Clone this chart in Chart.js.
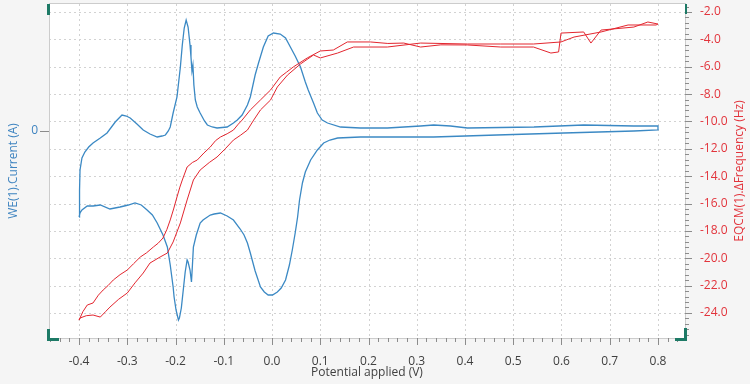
<!DOCTYPE html>
<html>
<head>
<meta charset="utf-8">
<script src="https://cdn.jsdelivr.net/npm/chart.js@4.4.1/dist/chart.umd.min.js"></script>
<style>
  html, body { margin: 0; padding: 0; background: #f5f5f5; }
  #wrap { width: 750px; height: 384px; position: relative; }
</style>
</head>
<body>
<div id="wrap"><canvas id="c" width="750" height="384"></canvas></div>
<script>
// ---- tick labels ----
const xTickValues = [-0.4, -0.3, -0.2, -0.1, 0.0, 0.1, 0.2, 0.3, 0.4, 0.5, 0.6, 0.7, 0.8];
const freqTickValues = [-2, -4, -6, -8, -10, -12, -14, -16, -18, -20, -22, -24];
const currentTickValues = [0];

// ---- CV (blue), current in µA: forward sweep then return sweep ----
const cvPotential = [
  -0.400, -0.399, -0.398, -0.394, -0.388, -0.380, -0.371, -0.356, -0.342, -0.325,
  -0.311, -0.302, -0.294, -0.280, -0.267, -0.253, -0.238, -0.228, -0.221, -0.215,
  -0.211, -0.205, -0.197, -0.190, -0.186, -0.182, -0.178, -0.174, -0.170, -0.168,
  -0.166, -0.164, -0.162, -0.159, -0.155, -0.149, -0.140, -0.134, -0.124, -0.114,
  -0.093, -0.080, -0.072, -0.062, -0.051, -0.045, -0.035, -0.028, -0.018, -0.008,
   0.003,  0.017,  0.028,  0.038,  0.048,  0.059,  0.069,  0.075,  0.086,  0.094,
   0.104,  0.115,  0.142,  0.183,  0.239,  0.308,  0.335,  0.370,  0.405,  0.543,
   0.646,  0.750,  0.800,
   0.800,  0.750,  0.605,  0.466,  0.335,  0.183,  0.136,  0.120,  0.107,  0.094,
   0.080,  0.069,  0.063,  0.057,  0.053,  0.048,  0.042,  0.036,  0.028,  0.019,
   0.011,  0.001, -0.008, -0.016, -0.024, -0.035, -0.045, -0.051, -0.058, -0.066,
  -0.080, -0.093, -0.107, -0.120, -0.128, -0.143, -0.149, -0.157, -0.163, -0.165,
  -0.167, -0.170, -0.174, -0.176, -0.180, -0.184, -0.188, -0.192, -0.194, -0.199,
  -0.203, -0.205, -0.211, -0.217, -0.226, -0.238, -0.248, -0.259, -0.271, -0.284,
  -0.298, -0.315, -0.336, -0.356, -0.371, -0.383, -0.394, -0.398, -0.400
];
const cvCurrent = [
  -86, -59, -39, -27, -21, -16, -12, -7, -2, 9,
  16, 15, 13, 7, 1, -3, -6, -5, -4, 0,
  4, 18, 34, 64, 86, 103, 111, 104, 86, 74,
  60, 66, 46, 31, 24, 18, 10, 6, 4, 3,
  4, 8, 11, 16, 26, 34, 56, 68, 84, 95,
  98, 97, 93, 84, 75, 64, 49, 41, 28, 18,
  11, 8, 4, 3, 3, 5, 6, 5, 3, 4,
  6, 5, 5,
  1, 0, -2, -4, -6, -6, -7, -9, -12, -19,
  -29, -41, -52, -69, -86, -102, -119, -134, -149, -157,
  -161, -164, -164, -161, -156, -140, -122, -112, -104, -98,
  -89, -85, -82, -83, -84, -89, -92, -104, -116, -134,
  -151, -139, -131, -129, -141, -159, -177, -187, -189, -179,
  -166, -156, -134, -116, -104, -92, -84, -79, -74, -72,
  -74, -76, -78, -74, -75, -75, -79, -82, -86
];

// ---- EQCM frequency (red), Hz ----
const freqPotentialA = [
  -0.400, -0.392, -0.383, -0.371, -0.360, -0.350, -0.340, -0.329, -0.315, -0.300,
  -0.287, -0.273, -0.260, -0.246, -0.236, -0.226, -0.218, -0.211, -0.204, -0.197,
  -0.191, -0.186, -0.176, -0.165, -0.155, -0.141, -0.128, -0.117, -0.107, -0.093,
  -0.080, -0.070, -0.062, -0.045, -0.024, -0.003, 0.017, 0.030, 0.044, 0.058,
   0.073, 0.100, 0.127, 0.156, 0.204, 0.240, 0.273, 0.308, 0.350, 0.405,
   0.474, 0.542, 0.578, 0.594, 0.599, 0.646, 0.661, 0.682, 0.750, 0.779, 0.800
];
const freqA = [
  -24.52, -23.90, -23.42, -23.27, -22.70, -22.32, -22.00, -21.59, -21.20, -20.86,
  -20.40, -19.91, -19.60, -19.18, -18.90, -18.52, -17.90, -17.20, -16.40, -15.52,
  -14.80, -14.28, -13.33, -13.00, -12.82, -12.30, -11.87, -11.40, -11.14, -10.90,
  -10.63, -10.20, -9.90, -9.16, -8.43, -7.70, -6.75, -6.40, -6.02, -5.70,
  -5.36, -4.85, -4.78, -4.19, -4.19, -4.30, -4.27, -4.56, -4.40, -4.41,
  -4.56, -4.56, -5.00, -4.92, -3.54, -3.46, -4.27, -3.32, -3.10, -2.73, -2.88
];
const freqPotentialB = [
  -0.400, -0.398, -0.385, -0.371, -0.356, -0.345, -0.336, -0.318, -0.300, -0.284,
  -0.267, -0.253, -0.232, -0.217, -0.205, -0.190, -0.176, -0.163, -0.149, -0.130,
  -0.114, -0.097, -0.080, -0.065, -0.051, -0.038, -0.024, -0.003, 0.011, 0.032,
   0.059, 0.086, 0.100, 0.136, 0.169, 0.239, 0.308, 0.405, 0.474, 0.542,
   0.599, 0.626, 0.682, 0.738, 0.796, 0.800
];
const freqB = [
  -24.52, -24.37, -24.20, -24.15, -24.30, -23.90, -23.57, -23.00, -22.54, -21.80,
  -21.08, -20.35, -19.91, -19.62, -18.81, -17.42, -15.74, -14.28, -13.55, -13.00,
  -12.60, -12.00, -11.36, -11.00, -10.63, -9.90, -9.16, -8.43, -7.48, -6.61,
  -5.80, -5.14, -5.36, -5.00, -4.56, -4.56, -4.27, -4.34, -4.34, -4.34,
  -4.19, -3.83, -3.46, -2.95, -2.95, -2.88
];

const BLUE = '#3b89c4';
const BLUE_TXT = '#3f84c0';
const RED = '#e3262f';
const RED_TXT = '#e2343c';
const GRAY_TXT = '#404040';
const ACCENT = '#1d7a66';
const FONT = "'Open Sans', 'Noto Sans', sans-serif";

Chart.defaults.font.family = FONT;
Chart.defaults.font.size = 12;

const pts = (xs, ys) => xs.map((v, i) => ({ x: v, y: ys[i] }));

function zeroPad(s) { s.paddingTop = 0; s.paddingBottom = 0; s.paddingLeft = 0; s.paddingRight = 0; }

const decor = {
  id: 'decor',
  beforeDraw(chart) {
    const { ctx, chartArea: a } = chart;
    ctx.save();
    ctx.fillStyle = '#ffffff';
    ctx.fillRect(a.left, a.top, a.right - a.left, a.bottom - a.top);
    ctx.restore();
  },
  beforeDatasetsDraw(chart) {
    const { ctx, chartArea: a, scales } = chart;
    ctx.save();
    ctx.strokeStyle = '#d2d2d2';
    ctx.lineWidth = 1;
    ctx.setLineDash([2, 3]);
    xTickValues.forEach(v => {
      const px = Math.round(scales.x.getPixelForValue(v)) + 0.5;
      ctx.beginPath(); ctx.moveTo(px, a.top); ctx.lineTo(px, a.bottom); ctx.stroke();
    });
    freqTickValues.forEach(v => {
      const py = Math.round(scales.y2.getPixelForValue(v)) + 0.5;
      ctx.beginPath(); ctx.moveTo(a.left, py); ctx.lineTo(a.right, py); ctx.stroke();
    });
    ctx.restore();
  },
  afterDraw(chart) {
    const { ctx, chartArea: a, scales } = chart;
    const L = Math.round(a.left), R = Math.round(a.right), T = Math.round(a.top), B = Math.round(a.bottom);
    ctx.save();
    // frame
    ctx.strokeStyle = '#cccccc';
    ctx.lineWidth = 1;
    ctx.strokeRect(L + 0.5, T - 0.5, R - L, B - T + 1);
    // x ticks (major 0.1, minor 0.02)
    ctx.strokeStyle = '#8c8c8c';
    const xs = scales.x;
    for (let k = Math.ceil(xs.min / 0.02 - 1e-6); k * 0.02 <= xs.max + 1e-9; k++) {
      const v = k * 0.02;
      const major = Math.abs(k % 5) === 0;
      const px = Math.round(xs.getPixelForValue(v)) + 0.5;
      ctx.beginPath(); ctx.moveTo(px, B); ctx.lineTo(px, B + (major ? 7 : 4)); ctx.stroke();
    }
    // right axis ticks (major 2, minor 0.4)
    const ys = scales.y2;
    for (let k = Math.ceil(ys.min / 0.4 - 1e-6); k * 0.4 <= ys.max + 1e-9; k++) {
      const v = k * 0.4;
      const major = Math.abs(k % 5) === 0;
      const py = Math.round(ys.getPixelForValue(v)) + 0.5;
      ctx.beginPath(); ctx.moveTo(R, py); ctx.lineTo(R + (major ? 7 : 4), py); ctx.stroke();
    }
    // left axis tick at 0
    const yl = scales.y;
    currentTickValues.forEach(v => {
      const py = Math.round(yl.getPixelForValue(v)) + 0.5;
      ctx.beginPath(); ctx.moveTo(L - 9, py); ctx.lineTo(L, py); ctx.stroke();
    });
    // corner brackets
    ctx.strokeStyle = ACCENT;
    ctx.lineWidth = 3;
    ctx.beginPath(); ctx.moveTo(L - 0.5, T); ctx.lineTo(L - 0.5, T + 11); ctx.stroke();
    ctx.beginPath(); ctx.moveTo(L - 0.5, B - 9); ctx.lineTo(L - 0.5, B + 1.5); ctx.lineTo(L + 10, B + 1.5); ctx.stroke();
    ctx.beginPath(); ctx.moveTo(R - 10, B + 1.5); ctx.lineTo(R + 0.5, B + 1.5); ctx.lineTo(R + 0.5, B - 10); ctx.stroke();
    ctx.lineWidth = 2;
    ctx.beginPath(); ctx.moveTo(R + 1, T); ctx.lineTo(R + 1, T + 10); ctx.stroke();
    // right title
    ctx.fillStyle = RED_TXT;
    ctx.font = '12px ' + FONT;
    ctx.textAlign = 'center';
    ctx.textBaseline = 'middle';
    ctx.translate(740, (a.top + a.bottom) / 2);
    ctx.rotate(-Math.PI / 2);
    ctx.fillText('EQCM(1).ΔFrequency (Hz)', 0, 0);
    ctx.restore();
  }
};

new Chart(document.getElementById('c'), {
  type: 'line',
  data: {
    datasets: [
      { label: 'ΔFrequency A', data: pts(freqPotentialA, freqA), yAxisID: 'y2', borderColor: RED, borderWidth: 1, pointRadius: 0, tension: 0, fill: false },
      { label: 'ΔFrequency B', data: pts(freqPotentialB, freqB), yAxisID: 'y2', borderColor: RED, borderWidth: 1, pointRadius: 0, tension: 0, fill: false },
      { label: 'Current', data: pts(cvPotential, cvCurrent), yAxisID: 'y', borderColor: BLUE, borderWidth: 1.3, pointRadius: 0, tension: 0, fill: false }
    ]
  },
  options: {
    responsive: false,
    animation: false,
    devicePixelRatio: 1,
    parsing: true,
    layout: { padding: { top: 4, left: 0, right: 0, bottom: 0 } },
    plugins: { legend: { display: false }, tooltip: { enabled: false } },
    scales: {
      x: {
        type: 'linear', position: 'bottom', min: -0.4623, max: 0.856,
        afterBuildTicks: s => { s.ticks = xTickValues.map(v => ({ value: v })); },
        ticks: { color: GRAY_TXT, padding: 16, autoSkip: false, maxRotation: 0, callback: v => Number(v).toFixed(1) },
        grid: { display: false, drawTicks: false },
        border: { display: false },
        title: { display: true, text: 'Potential applied (V)', color: GRAY_TXT, padding: { top: 0, bottom: 4 } },
        afterFit: s => { s.height = 46; zeroPad(s); }
      },
      y: {
        type: 'linear', position: 'left', min: -207, max: 127,
        afterBuildTicks: s => { s.ticks = currentTickValues.map(v => ({ value: v })); },
        ticks: { color: BLUE_TXT, padding: 11, callback: v => String(v) },
        grid: { display: false, drawTicks: false },
        border: { display: false },
        title: { display: true, text: 'WE(1).Current (A)', color: BLUE_TXT, padding: { top: 6 } },
        afterFit: s => { s.width = 49; zeroPad(s); }
      },
      y2: {
        type: 'linear', position: 'right', min: -25.83, max: -1.415,
        afterBuildTicks: s => { s.ticks = freqTickValues.map(v => ({ value: v })); },
        ticks: { color: RED_TXT, padding: 15, callback: v => Number(v).toFixed(1) },
        grid: { display: false, drawTicks: false },
        border: { display: false },
        title: { display: false },
        afterFit: s => { s.width = 65; zeroPad(s); }
      }
    }
  },
  plugins: [decor]
});
</script>
</body>
</html>
